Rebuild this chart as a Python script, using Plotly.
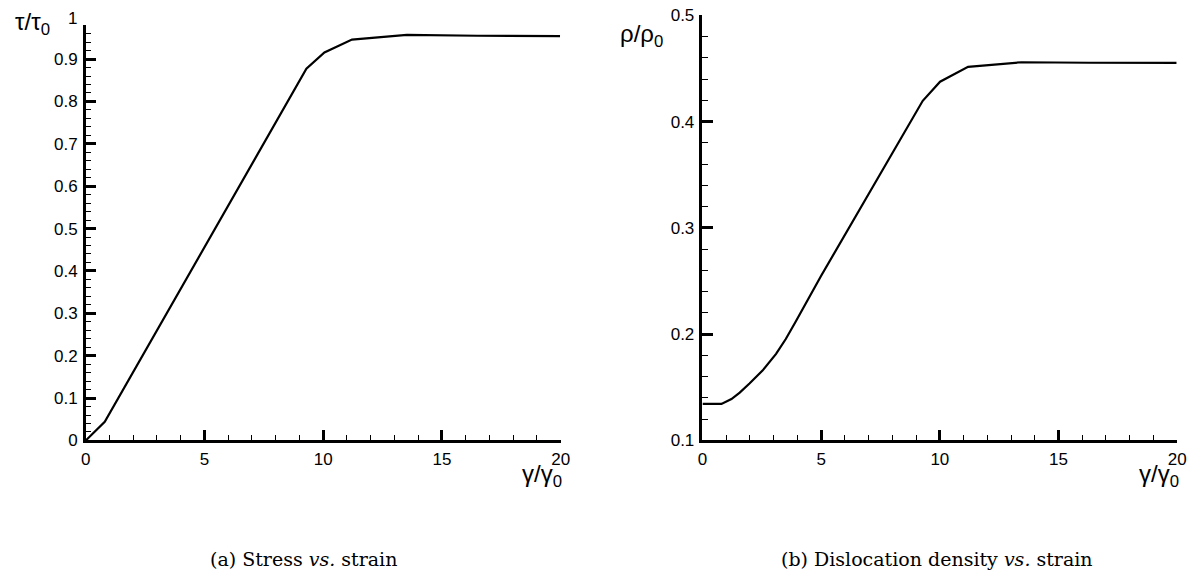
import plotly.graph_objects as go

# Stress vs strain
strain_a = [0.0, 0.80, 9.29, 10.05, 11.21, 13.52, 16.5, 19.97]
stress_a = [0.0, 0.044, 0.877, 0.9155, 0.946, 0.957, 0.955, 0.954]

# Dislocation density vs strain
strain_b = [0.0, 0.80, 1.22, 1.57, 1.98, 2.54, 3.10, 3.51, 3.93, 4.48, 5.0, 9.28, 10.01, 11.19, 13.44, 16.3, 19.97]
density_b = [0.1344, 0.1344, 0.139, 0.145, 0.1536, 0.166, 0.1815, 0.1955, 0.212, 0.234, 0.255, 0.4197, 0.4377, 0.4517, 0.456, 0.4555, 0.4553]

W, H = 1202, 583

def px(x):
    return x / W

def py(y):
    return 1 - y / H

fig = go.Figure()
line = dict(color="black", width=2.2)
fig.add_trace(go.Scatter(x=strain_a, y=stress_a, mode="lines", line=line, xaxis="x", yaxis="y", showlegend=False))
fig.add_trace(go.Scatter(x=strain_b, y=density_b, mode="lines", line=line, xaxis="x2", yaxis="y2", showlegend=False))

SANS = "Arial"
tickfont = dict(family=SANS, size=17, color="black")
common_x = dict(range=[0, 20], dtick=5, tick0=0, ticks="inside", ticklen=11, tickwidth=2.5,
                tickcolor="black", showline=True, linewidth=2.5, linecolor="black",
                showgrid=False, zeroline=False, tickfont=tickfont, ticklabelstandoff=1,
                ticklabeloverflow="allow",
                minor=dict(dtick=1, ticks="inside", ticklen=6, tickwidth=1.3, tickcolor="black"))
common_y = dict(ticks="inside", ticklen=11, tickwidth=2.5, tickcolor="black",
                showline=True, linewidth=2.5, linecolor="black", showgrid=False, zeroline=False,
                tickfont=tickfont, ticklabelstandoff=2, ticklabeloverflow="allow",
                minor=dict(dtick=0.02, ticks="inside", ticklen=6, tickwidth=1.3, tickcolor="black"))

yvals_a = [0, 0.1, 0.2, 0.3, 0.4, 0.5, 0.6, 0.7, 0.8, 0.9, 0.98]
ytext_a = ["0", "0.1", "0.2", "0.3", "0.4", "0.5", "0.6", "0.7", "0.8", "0.9", ""]
yvals_b = [0.1, 0.2, 0.3, 0.4, 0.5]
ytext_b = ["0.1", "0.2", "0.3", "0.4", "0.5"]

fig.update_layout(
    width=W, height=H, margin=dict(l=0, r=0, t=0, b=0),
    paper_bgcolor="white", plot_bgcolor="white",
    xaxis=dict(common_x, domain=[px(81.7), px(562.3)], anchor="y"),
    yaxis=dict(common_y, domain=[py(446), py(16.7)], range=[0, 0.98], tickvals=yvals_a, ticktext=ytext_a, anchor="x"),
    xaxis2=dict(common_x, domain=[px(705.7), px(1186)], anchor="y2"),
    yaxis2=dict(common_y, domain=[py(446), py(6.7)], range=[0.1, 0.5], tickvals=yvals_b, ticktext=ytext_b, anchor="x2"),
)

afont = dict(family=SANS, size=24, color="black")
cfont = dict(family="DejaVu Serif", size=19, color="black")
ann = [
    dict(text="1", x=px(82), y=py(10), xref="paper", yref="paper", xanchor="right", yanchor="middle", xshift=-7, showarrow=False, font=tickfont),
    dict(text="τ/τ<sub>0</sub>", x=px(8), y=py(15), xref="paper", yref="paper", xanchor="left", yanchor="middle", showarrow=False, font=afont),
    dict(text="ρ/ρ<sub>0</sub>", x=px(620), y=py(27), xref="paper", yref="paper", xanchor="left", yanchor="middle", showarrow=False, font=afont),
    dict(text="γ/γ<sub>0</sub>", x=px(566), y=py(482), xref="paper", yref="paper", xanchor="right", yanchor="middle", showarrow=False, font=afont),
    dict(text="γ/γ<sub>0</sub>", x=px(1190), y=py(482), xref="paper", yref="paper", xanchor="right", yanchor="middle", showarrow=False, font=afont),
    dict(text="(a) Stress <i>vs.</i> strain", x=px(302), y=py(569), xref="paper", yref="paper", xanchor="center", yanchor="middle", showarrow=False, font=cfont),
    dict(text="(b) Dislocation density <i>vs.</i> strain", x=px(943), y=py(569), xref="paper", yref="paper", xanchor="center", yanchor="middle", showarrow=False, font=cfont),
]
fig.update_layout(annotations=ann)

fig.write_html("out.html")
